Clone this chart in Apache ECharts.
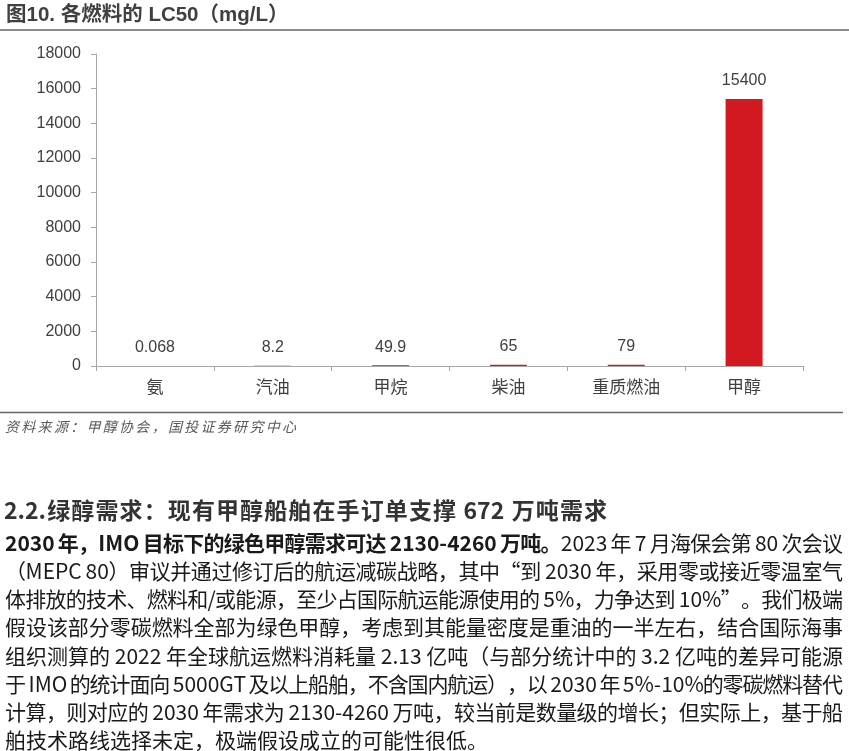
<!DOCTYPE html>
<html><head><meta charset="utf-8">
<script src="https://cdn.jsdelivr.net/npm/echarts@6/dist/echarts.min.js"></script>
<style>html,body{margin:0;padding:0;background:#fff}#c{width:849px;height:751px}</style>
</head><body><div id="c"></div>
<script>
// ---- data ----
const categories = ['氨', '汽油', '甲烷', '柴油', '重质燃油', '甲醇'];
const lc50Values = [0.068, 8.2, 49.9, 65, 79, 15400];
const yMin = 0, yMax = 18000, yInterval = 2000;

// ---- texts ----
const chartTitle = '图10. 各燃料的 LC50（mg/L）';
const sourceNote = '资料来源：甲醇协会，国投证券研究中心';
const sectionHeading = '2.2.绿醇需求：现有甲醇船舶在手订单支撑 672 万吨需求';
const bodyLeadBold = '2030 年，IMO 目标下的绿色甲醇需求可达 2130-4260 万吨。';
const bodyLines = [
  '2023 年 7 月海保会第 80 次会议',
  '（MEPC 80）审议并通过修订后的航运减碳战略，其中“到 2030 年，采用零或接近零温室气',
  '体排放的技术、燃料和/或能源，至少占国际航运能源使用的 5%，力争达到 10%”。我们极端',
  '假设该部分零碳燃料全部为绿色甲醇，考虑到其能量密度是重油的一半左右，结合国际海事',
  '组织测算的 2022 年全球航运燃料消耗量 2.13 亿吨（与部分统计中的 3.2 亿吨的差异可能源',
  '于 IMO 的统计面向 5000GT 及以上船舶，不含国内航运），以 2030 年 5%-10%的零碳燃料替代',
  '计算，则对应的 2030 年需求为 2130-4260 万吨，较当前是数量级的增长；但实际上，基于船',
  '舶技术路线选择未定，极端假设成立的可能性很低。'
];

// ---- layout helpers ----
const CJK = '"Noto Sans CJK SC"';
const bodySize = 21;
const measureCtx = document.createElement('canvas').getContext('2d');
function fontOf(st, size) { return (st ? st + ' ' : '') + size + 'px ' + CJK; }
function tokenize(str, st) {
  const out = []; let buf = '';
  for (const ch of str) {
    if (/[A-Za-z0-9.%\/\-]/.test(ch)) buf += ch;
    else { if (buf) { out.push({ t: buf, st }); buf = ''; } out.push({ t: ch, st }); }
  }
  if (buf) out.push({ t: buf, st });
  return out;
}
function layoutLine(tokens, x0, y, width, justify, size, color) {
  tokens.forEach(tk => { measureCtx.font = fontOf(tk.st, size); tk.w = measureCtx.measureText(tk.t).width; });
  const natural = tokens.reduce((s, t) => s + t.w, 0);
  const gap = justify && tokens.length > 1 ? (width - natural) / (tokens.length - 1) : 0;
  const els = []; let x = x0;
  tokens.forEach(tk => {
    if (tk.t.trim() !== '') {
      els.push({ type: 'text', x: x, y: y, silent: true,
        style: { text: tk.t, font: fontOf(tk.st, size), fill: color, verticalAlign: 'middle', align: 'left' } });
    }
    x += tk.w + gap;
  });
  return els;
}

const graphics = [];
// title
graphics.push({ type: 'text', x: 6, y: 15, style: { text: chartTitle, font: 'bold 20.5px "Liberation Sans",' + CJK, fill: '#404040', verticalAlign: 'middle' } });
graphics.push({ type: 'line', shape: { x1: 0, y1: 30, x2: 849, y2: 30 }, style: { stroke: '#666', lineWidth: 1.5 } });
// source
graphics.push({ type: 'line', shape: { x1: 0, y1: 412.5, x2: 843, y2: 412.5 }, style: { stroke: '#666', lineWidth: 1.5 } });
graphics.push(...layoutLine(tokenize(sourceNote, 'italic'), 5, 427, 291, true, 14, '#595959'));
// heading
graphics.push(...layoutLine(tokenize(sectionHeading, 'bold'), 4, 510, 603, true, 23, '#333'));
// body
const lineY0 = 543, lineStep = 28.15, textW = 838;
bodyLines.forEach((ln, i) => {
  let toks = tokenize(ln, '');
  if (i === 0) toks = tokenize(bodyLeadBold, 'bold').concat(toks);
  const justify = i < bodyLines.length - 1;
  graphics.push(...layoutLine(toks, 5, lineY0 + i * lineStep, textW, justify, bodySize, '#1a1a1a'));
});

const chart = echarts.init(document.getElementById('c'), null, { renderer: 'canvas' });
chart.setOption({
  animation: false,
  backgroundColor: '#fff',
  grid: { left: 96, right: 46, top: 54, bottom: 385, containLabel: false },
  xAxis: {
    type: 'category', data: categories,
    axisLine: { lineStyle: { color: '#a6a6a6', width: 1 } },
    axisTick: { show: true, length: 5, alignWithLabel: false, lineStyle: { color: '#a6a6a6' } },
    axisLabel: { color: '#404040', fontSize: 17, fontFamily: CJK, margin: 12 }
  },
  yAxis: {
    type: 'value', min: yMin, max: yMax, interval: yInterval,
    axisLine: { show: true, lineStyle: { color: '#a6a6a6', width: 1 } },
    axisTick: { show: true, length: 5, lineStyle: { color: '#a6a6a6' } },
    splitLine: { show: false },
    axisLabel: { color: '#404040', fontSize: 16, fontFamily: '"Liberation Sans"', margin: 15, formatter: v => String(v) }
  },
  series: [{
    type: 'bar', data: lc50Values, barWidth: 37,
    itemStyle: { color: '#D2191F' },
    label: { show: true, position: 'top', distance: 10, color: '#404040', fontSize: 16, fontFamily: '"Liberation Sans"' }
  }],
  graphic: graphics
});
</script></body></html>
